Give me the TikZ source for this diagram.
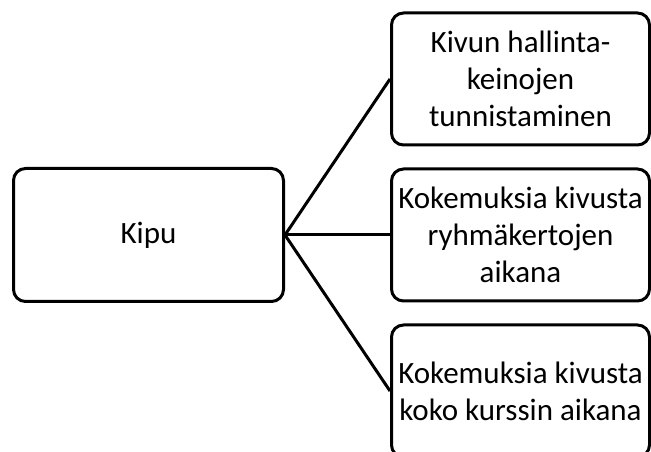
\documentclass[tikz,border=0pt]{standalone}
\usepackage{fontspec}
\setmainfont{Carlito}
\usetikzlibrary{positioning}
\tikzset{
    rootBox/.style={
        rectangle, rounded corners=12pt, draw=black, line width=3pt,
        minimum width=270pt, minimum height=133pt,
        align=center, font=\fontsize{31}{37}\selectfont
    },
    leafBox/.style={
        rectangle, rounded corners=12pt, draw=black, line width=3pt,
        minimum width=258pt, minimum height=132pt, inner sep=0pt,
        align=center, font=\fontsize{31}{37}\selectfont
    },
    branchLine/.style={
        line width=3pt, draw=black
    }
}
\begin{document}
\begin{tikzpicture}[x=1pt, y=1pt]

	% =========================================================
	% Canvas
	% =========================================================

	\useasboundingbox (0,0) rectangle (651,452);
	\clip (0,0) rectangle (651,452);

	% =========================================================
	% Root and leaves
	% =========================================================

	\node [rootBox] (kipu) at (148.5,217) {Kipu};

	\node [leafBox, right=105pt of kipu] (leaf2) {
		Kokemuksia kivusta\\
		ryhmäkertojen\\
		aikana
	};

	\node [leafBox, above=21pt of leaf2] (leaf1) {
		Kivun hallinta-\\
		keinojen\\
		tunnistaminen
	};

	\node [leafBox, below=21pt of leaf2] (leaf3) {
		Kokemuksia kivusta\\
		koko kurssin aikana
	};

	\foreach \i in {1,2,3} {
			\draw [branchLine] (kipu.east) -- (leaf\i.west);
		}

\end{tikzpicture}
\end{document}
